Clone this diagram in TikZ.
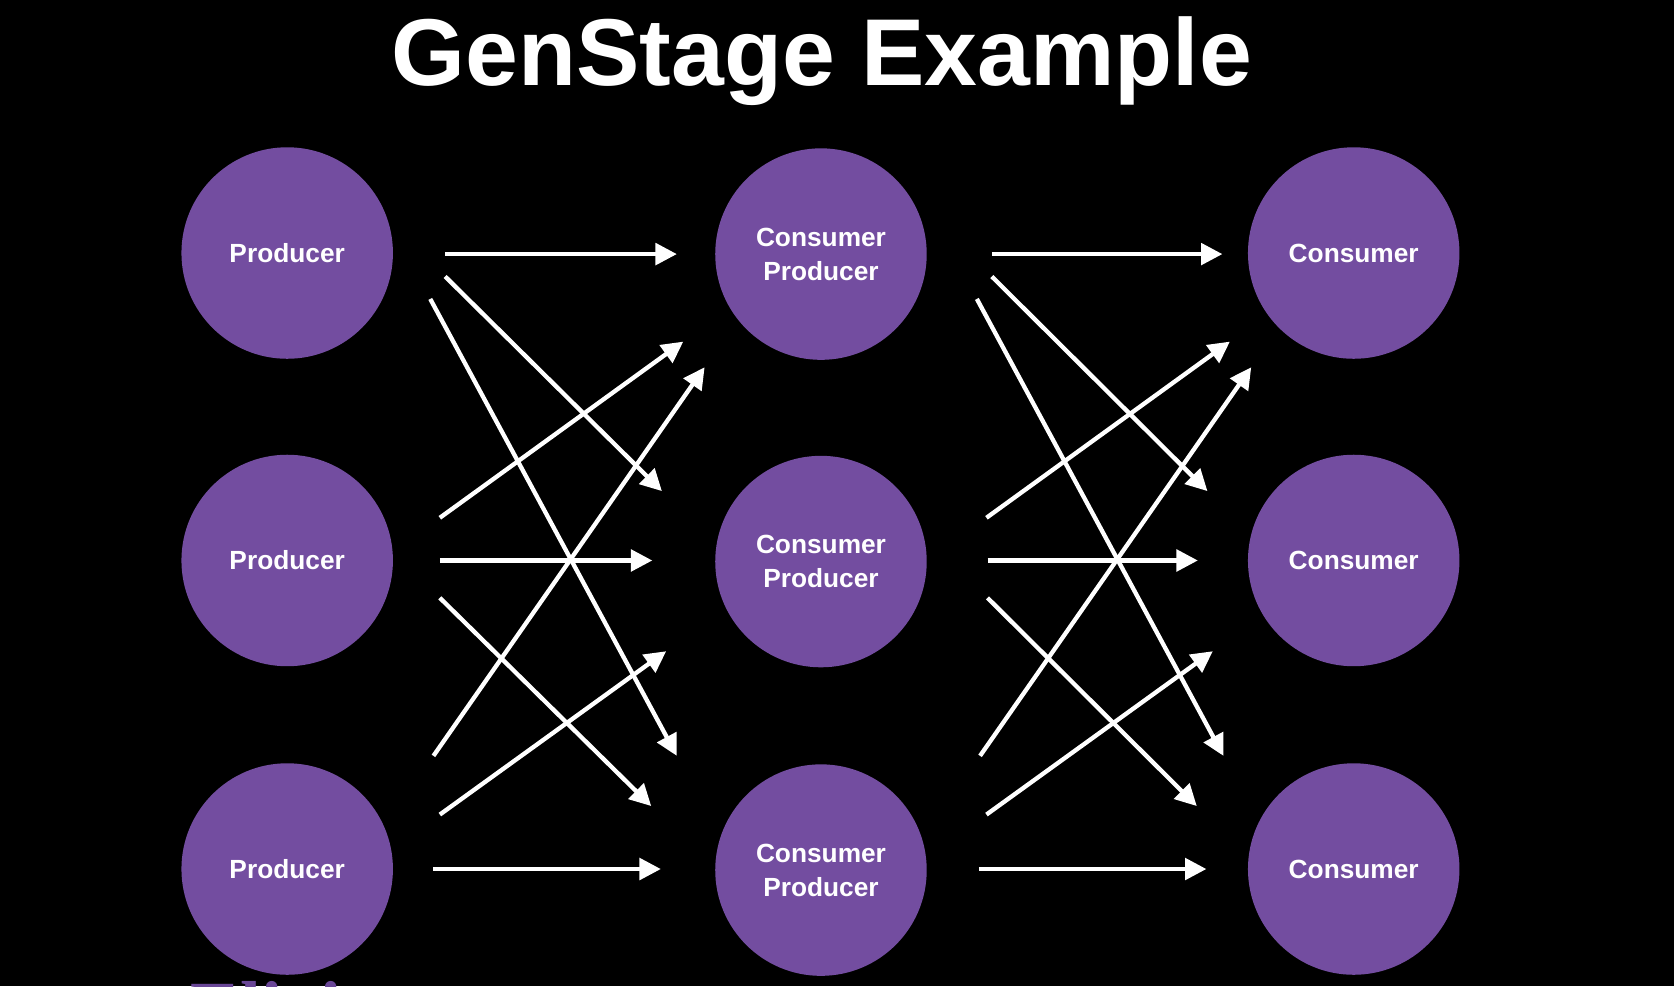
\documentclass[tikz,border=0pt]{standalone}
\usepackage{fontspec}
\setmainfont{Liberation Sans}
\newfontfamily\logofont{Liberation Serif}
\usetikzlibrary{arrows.meta}
\definecolor{stagepurple}{RGB}{115,77,160}
\definecolor{logopurple}{RGB}{105,70,150}
\begin{document}
\begin{tikzpicture}[x=0.01cm,y=-0.01cm,
  stage/.style={circle, fill=stagepurple, minimum size=1.98cm, inner sep=0pt,
    text=white, font=\bfseries\fontsize{7}{9.1}\selectfont, align=center},
  flow/.style={draw=white, line width=1.15pt, -{Triangle[length=0.2cm,width=0.2cm]}},
  titletext/.style={text=white, font=\bfseries\fontsize{25.3}{29}\selectfont, inner sep=0pt, anchor=base}]
\fill[black] (0,0) rectangle (1568,924);
\useasboundingbox (0,0) rectangle (1568,924);
\clip (0,0) rectangle (1568,924);

\node[titletext] (title) at (770,80) {GenStage Example};

\node[stage] (P1) at (269,237) {Producer};
\node[stage] (P2) at (269,525) {Producer};
\node[stage] (P3) at (269,814) {Producer};
\node[stage] (C1) at (769,238) {Consumer\\Producer};
\node[stage] (C2) at (769,526) {Consumer\\Producer};
\node[stage] (C3) at (769,815) {Consumer\\Producer};
\node[stage] (K1) at (1268,237) {Consumer};
\node[stage] (K2) at (1268,525) {Consumer};
\node[stage] (K3) at (1268,814) {Consumer};

\node[text=logopurple, font=\logofont\bfseries\fontsize{20}{24}\selectfont, inner sep=0pt, anchor=north west] (logo) at (178,919) {Elixir};

% first stage of connectors
\coordinate (a1s) at (417,238); \coordinate (a1e) at (634,238);
\coordinate (a2s) at (417,259); \coordinate (a2e) at (620,460);
\coordinate (a3s) at (403,280); \coordinate (a3e) at (634,708);
\coordinate (a4s) at (412,485); \coordinate (a4e) at (640,320);
\coordinate (a5s) at (412,525); \coordinate (a5e) at (611,525);
\coordinate (a6s) at (412,560); \coordinate (a6e) at (610,755);
\coordinate (a7s) at (406,708); \coordinate (a7e) at (660,344);
\coordinate (a8s) at (412,763); \coordinate (a8e) at (624,610);
\coordinate (a9s) at (406,814); \coordinate (a9e) at (619,814);
% second stage of connectors
\coordinate (b1s) at (929,238); \coordinate (b1e) at (1145,238);
\coordinate (b2s) at (929,259); \coordinate (b2e) at (1131,460);
\coordinate (b3s) at (915,280); \coordinate (b3e) at (1146,708);
\coordinate (b4s) at (924,485); \coordinate (b4e) at (1152,320);
\coordinate (b5s) at (925,525); \coordinate (b5e) at (1122,525);
\coordinate (b6s) at (925,560); \coordinate (b6e) at (1121,755);
\coordinate (b7s) at (918,708); \coordinate (b7e) at (1172,344);
\coordinate (b8s) at (924,763); \coordinate (b8e) at (1136,610);
\coordinate (b9s) at (917,814); \coordinate (b9e) at (1130,814);

\foreach \k in {1,...,9}{
  \draw[flow] (a\k s) -- (a\k e);
  \draw[flow] (b\k s) -- (b\k e);
}
\end{tikzpicture}
\end{document}
